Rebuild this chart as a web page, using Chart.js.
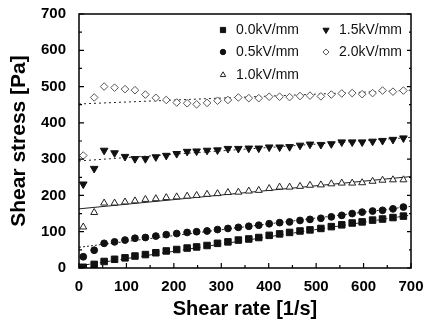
<!DOCTYPE html>
<html>
<head>
<meta charset="utf-8">
<script src="https://cdn.jsdelivr.net/npm/chart.js@4.4.0/dist/chart.umd.min.js"></script>
<style>
  html, body { margin: 0; padding: 0; background: #fff; }
  #wrap { width: 429px; height: 327px; }
</style>
</head>
<body>
<div id="wrap"><canvas id="chart" width="429" height="327"></canvas></div>
<script>
// shear rate [1/s] of the measured points
const shearRate = [9, 32, 53, 75, 97, 118, 140, 162, 184, 206, 228, 248, 270, 292, 314, 336,
  358, 379, 401, 423, 444, 466, 487, 510, 532, 554, 576, 597, 619, 640, 662, 684];

// shear stress [Pa] per field strength
const stress00 = [2, 10, 18, 24, 28, 33, 37, 42, 47, 51, 55, 58, 62, 68, 72, 77,
  80, 84, 90, 94, 98, 102, 105, 109, 114, 119, 124, 127, 132, 135, 139, 143];
const stress05 = [31, 49, 68, 72, 77, 82, 84, 88, 92, 95, 98, 100, 102, 106, 109, 112,
  115, 118, 122, 125, 127, 131, 134, 137, 141, 145, 150, 154, 157, 159, 163, 168];
const stress10 = [113, 153, 179, 179, 182, 185, 189, 191, 194, 196, 198, 200, 203, 205, 208, 209,
  212, 214, 219, 223, 223, 225, 228, 229, 232, 234, 234, 235, 239, 242, 243, 243];
const stress15 = [231, 274, 324, 317, 307, 301, 301, 306, 310, 315, 321, 322, 324, 325, 329, 329,
  330, 330, 333, 333, 334, 338, 341, 340, 342, 347, 347, 347, 349, 351, 354, 358];
const stress20 = [310, 470, 500, 497, 493, 490, 478, 469, 463, 456, 454, 451, 455, 461, 463, 470,
  468, 468, 472, 472, 471, 474, 475, 473, 478, 481, 482, 479, 482, 489, 486, 489];

// Bingham fit lines, value at start and end of the range
const fitRange = [0, 700];
const fit00 = [6, 146];
const fit05 = [57, 170];
const fit10 = [163, 252];
const fit15 = [295, 360];
const fit20 = [452, 490];

const seriesLabels = ['0.0kV/mm', '0.5kV/mm', '1.0kV/mm', '1.5kV/mm', '2.0kV/mm'];
const xTicks = [0, 100, 200, 300, 400, 500, 600, 700];
const yTicks = [0, 100, 200, 300, 400, 500, 600, 700];

const toPoints = (ys) => shearRate.map((x, i) => ({ x: x, y: ys[i] }));
const toLine = (ends) => fitRange.map((x, i) => ({ x: x, y: ends[i] }));

Chart.defaults.font.family = "'Liberation Sans', Arial, sans-serif";
Chart.defaults.color = '#000';

const markers = [
  { pointStyle: 'rect', pointRadius: 4.6, backgroundColor: '#111', borderColor: '#111', pointRotation: 0 },
  { pointStyle: 'circle', pointRadius: 3.4, backgroundColor: '#111', borderColor: '#111', pointRotation: 0 },
  { pointStyle: 'triangle', pointRadius: 4, backgroundColor: '#fff', borderColor: '#222', pointRotation: 0 },
  { pointStyle: 'triangle', pointRadius: 4.4, backgroundColor: '#111', borderColor: '#111', pointRotation: 180 },
  { pointStyle: 'rectRot', pointRadius: 3.8, backgroundColor: '#fff', borderColor: '#555', pointRotation: 0 },
];

const pointSets = [stress00, stress05, stress10, stress15, stress20].map((ys, i) => ({
  label: seriesLabels[i],
  data: toPoints(ys),
  showLine: false,
  pointStyle: markers[i].pointStyle,
  pointRadius: markers[i].pointRadius,
  pointRotation: markers[i].pointRotation,
  pointBackgroundColor: markers[i].backgroundColor,
  pointBorderColor: markers[i].borderColor,
  pointBorderWidth: 1,
  backgroundColor: markers[i].backgroundColor,
  borderColor: markers[i].borderColor,
}));

const fitDashes = [[4, 3], [2, 2], [], [2, 3], [2, 3]];
const fitSets = [fit00, fit05, fit10, fit15, fit20].map((ends, i) => ({
  label: 'fit ' + seriesLabels[i],
  data: toLine(ends),
  showLine: true,
  pointRadius: 0,
  borderColor: '#222',
  borderWidth: 1,
  borderDash: fitDashes[i],
}));

// frame with inward ticks like the original plot
const framePlugin = {
  id: 'frame',
  afterDraw(chart) {
    const { ctx, chartArea: a, scales } = chart;
    ctx.save();
    ctx.strokeStyle = '#000';
    ctx.lineWidth = 1.5;
    ctx.strokeRect(a.left, a.top, a.right - a.left, a.bottom - a.top);
    ctx.lineWidth = 1.2;
    ctx.beginPath();
    for (let v = 0; v <= 700; v += 50) {
      const len = v % 100 === 0 ? 5 : 3;
      const px = scales.x.getPixelForValue(v);
      ctx.moveTo(px, a.bottom);
      ctx.lineTo(px, a.bottom - len);
      const py = scales.y.getPixelForValue(v);
      ctx.moveTo(a.left, py);
      ctx.lineTo(a.left + len, py);
      ctx.moveTo(a.right, py);
      ctx.lineTo(a.right - len + 1, py);
    }
    ctx.stroke();
    ctx.restore();
  }
};

// two column legend inside the plot, column by column
const legendPlugin = {
  id: 'colLegend',
  afterDraw(chart) {
    const { ctx, chartArea: a } = chart;
    const cols = [a.right - 188, a.right - 85];
    const rows = [a.top + 16, a.top + 38, a.top + 61];
    const slots = [[0, 0], [0, 1], [0, 2], [1, 0], [1, 1]];
    ctx.save();
    ctx.font = "14px 'Liberation Sans', Arial, sans-serif";
    ctx.textBaseline = 'middle';
    ctx.textAlign = 'left';
    slots.forEach(([c, r], i) => {
      const ds = chart.data.datasets[i];
      ctx.fillStyle = ds.pointBackgroundColor;
      ctx.strokeStyle = ds.pointBorderColor;
      ctx.lineWidth = 1;
      Chart.helpers.drawPoint(ctx, {
        pointStyle: ds.pointStyle,
        rotation: ds.pointRotation,
        radius: ds.pointRadius * 0.8,
        borderWidth: 1,
      }, cols[c], rows[r]);
      ctx.fillStyle = '#111';
      ctx.fillText(ds.label, cols[c] + 13, rows[r]);
    });
    ctx.restore();
  }
};

new Chart(document.getElementById('chart'), {
  type: 'scatter',
  data: { datasets: pointSets.concat(fitSets) },
  options: {
    responsive: false,
    animation: false,
    devicePixelRatio: 1,
    layout: { padding: { top: 13, right: 18, left: 0, bottom: 0 } },
    plugins: {
      legend: { display: false },
      tooltip: { enabled: false },
    },
    scales: {
      x: {
        type: 'linear',
        min: 0,
        max: 700,
        afterBuildTicks: (s) => { s.ticks = xTicks.map((v) => ({ value: v })); },
        afterFit: (s) => { s.height = 59; },
        grid: { display: false },
        border: { display: false },
        ticks: { font: { size: 15, weight: 'bold' }, color: '#000', padding: 2, maxRotation: 0 },
        title: {
          display: true,
          text: 'Shear rate [1/s]',
          font: { size: 20, weight: 'bold' },
          color: '#000',
          padding: { top: 0, bottom: 6 },
        },
      },
      y: {
        type: 'linear',
        min: 0,
        max: 700,
        afterBuildTicks: (s) => { s.ticks = yTicks.map((v) => ({ value: v })); },
        afterFit: (s) => { s.width = 79; },
        grid: { display: false },
        border: { display: false },
        ticks: { font: { size: 15, weight: 'bold' }, color: '#000', padding: 5 },
        title: {
          display: true,
          text: 'Shear stress [Pa]',
          font: { size: 21, weight: 'bold' },
          color: '#000',
          padding: { top: 7, bottom: 0 },
        },
      },
    },
  },
  plugins: [framePlugin, legendPlugin],
});
</script>
</body>
</html>
